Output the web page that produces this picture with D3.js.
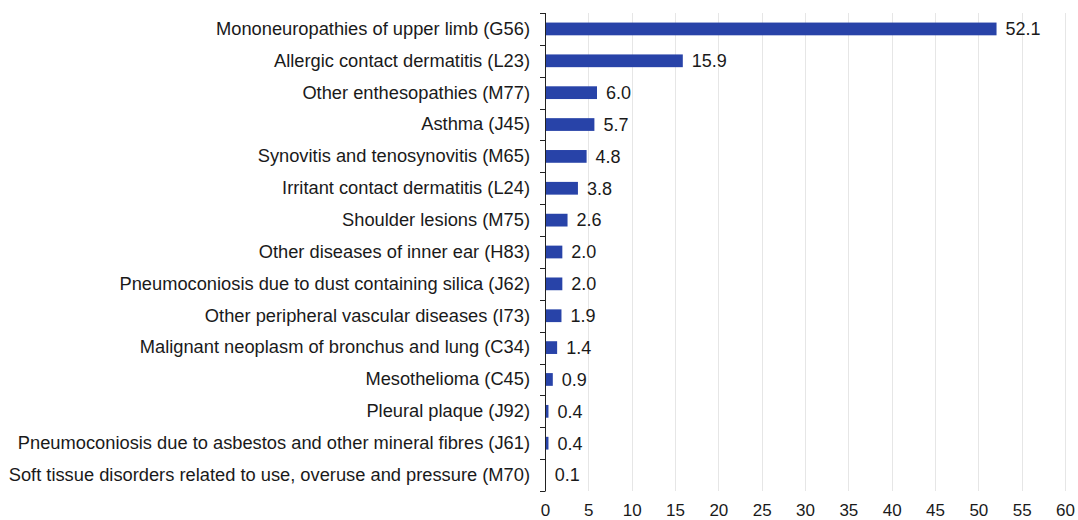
<!DOCTYPE html>
<html><head><meta charset="utf-8">
<script src="https://cdn.jsdelivr.net/npm/d3@7"></script>
<style>
html,body{margin:0;padding:0;background:#fff;}
text{font-family:"Liberation Sans",Arial,sans-serif;fill:#1a1a1a;}
</style></head>
<body><svg id="c" width="1078" height="520"></svg>
<script>
const categories = [
 "Mononeuropathies of upper limb (G56)",
 "Allergic contact dermatitis (L23)",
 "Other enthesopathies (M77)",
 "Asthma (J45)",
 "Synovitis and tenosynovitis (M65)",
 "Irritant contact dermatitis (L24)",
 "Shoulder lesions (M75)",
 "Other diseases of inner ear (H83)",
 "Pneumoconiosis due to dust containing silica (J62)",
 "Other peripheral vascular diseases (I73)",
 "Malignant neoplasm of bronchus and lung (C34)",
 "Mesothelioma (C45)",
 "Pleural plaque (J92)",
 "Pneumoconiosis due to asbestos and other mineral fibres (J61)",
 "Soft tissue disorders related to use, overuse and pressure (M70)"
];
const values = [52.1, 15.9, 6.0, 5.7, 4.8, 3.8, 2.6, 2.0, 2.0, 1.9, 1.4, 0.9, 0.4, 0.4, 0.1];
const xTicks = [0,5,10,15,20,25,30,35,40,45,50,55,60];

const svg = d3.select("#c");
const x0 = 545, x1 = 1065, yTop = 13, yBot = 491;
const x = d3.scaleLinear().domain([0,60]).range([x0,x1]);
const y = d3.scaleBand().domain(categories).range([yTop,yBot]).paddingInner(0.6).paddingOuter(0.3);
const yb = d3.scaleBand().domain(categories).range([yTop,yBot]);

// gridlines
svg.append("g").selectAll("line").data(xTicks.slice(1)).join("line")
  .attr("x1",d=>Math.round(x(d))+0.5).attr("x2",d=>Math.round(x(d))+0.5).attr("y1",yTop).attr("y2",yBot)
  .attr("stroke","#e6e6e6").attr("stroke-width",1);

// bars
svg.append("g").selectAll("rect").data(values).join("rect")
  .attr("x",x0).attr("y",(d,i)=>y(categories[i]))
  .attr("width",d=>x(d)-x0).attr("height",y.bandwidth())
  .attr("fill","#2843a8");

// value labels
svg.append("g").selectAll("text").data(values).join("text")
  .attr("x",d=>x(d)+9).attr("y",(d,i)=>yb(categories[i])+yb.bandwidth()/2)
  .attr("dy","0.35em").attr("font-size","18px")
  .text(d=>d.toFixed(1));

// y axis
const yAxis = d3.axisLeft(yb).tickSize(0).tickPadding(15);
const gy = svg.append("g").attr("transform",`translate(${x0},0)`).call(yAxis);
gy.select(".domain").remove();
gy.selectAll("text").attr("font-size","18.3px").style("font-family","'Liberation Sans',Arial,sans-serif").attr("fill","#1a1a1a");
// axis line and boundary ticks
const bounds = categories.map(c=>yb(c)).concat([yBot]);
svg.append("line").attr("x1",x0+0.5).attr("x2",x0+0.5).attr("y1",yTop).attr("y2",yBot).attr("stroke","#222").attr("stroke-width",1);
svg.append("g").selectAll("line").data(bounds).join("line")
  .attr("x1",x0-5).attr("x2",x0+0.5).attr("y1",d=>Math.round(d)+0.5).attr("y2",d=>Math.round(d)+0.5)
  .attr("stroke","#222").attr("stroke-width",1);

// x axis labels
const xAxis = d3.axisBottom(x).tickValues(xTicks).tickSize(0).tickPadding(0).tickFormat(d3.format("d"));
const gx = svg.append("g").attr("transform",`translate(0,510)`).call(xAxis);
gx.select(".domain").remove();
gx.selectAll("text").attr("dy","0.35em").attr("y",0).attr("font-size","17px").style("font-family","'Liberation Sans',Arial,sans-serif").attr("fill","#1a1a1a");
</script></body></html>
